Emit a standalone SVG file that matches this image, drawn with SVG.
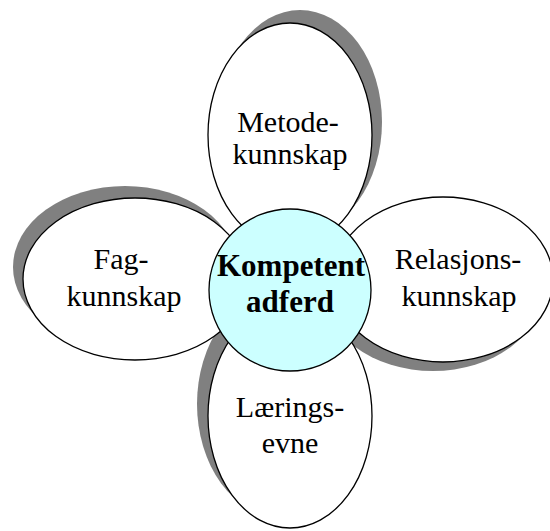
<svg xmlns="http://www.w3.org/2000/svg" width="550" height="531" viewBox="0 0 550 531">
<style>
.sh{fill:#808080;stroke:none}
.pet{fill:#fff;stroke:#000;stroke-width:1.3}
.ctr{fill:#ccffff;stroke:#000;stroke-width:1.3}
text{font-family:"Liberation Serif","Times New Roman",serif;font-size:30px;fill:#000;text-anchor:middle}
.b{font-weight:bold;font-size:31px}
</style>
<rect width="550" height="531" fill="#fff"/>
<g id="shadows">
<ellipse class="sh" cx="300" cy="122" rx="82" ry="112"/>
<ellipse class="sh" cx="125" cy="267" rx="112" ry="81"/>
<ellipse class="sh" cx="279" cy="404" rx="82" ry="112"/>
<ellipse class="sh" cx="433" cy="289" rx="110" ry="82"/>
</g>
<g id="metode">
<ellipse class="pet" cx="290" cy="135" rx="82" ry="112"/>
<text x="288" y="132">Metode-</text>
<text x="290" y="164">kunnskap</text>
</g>
<g id="fag">
<ellipse class="pet" cx="135" cy="279" rx="112" ry="81"/>
<text x="121" y="269">Fag-</text>
<text x="124" y="306">kunnskap</text>
</g>
<g id="relasjons">
<ellipse class="pet" cx="443" cy="279.5" rx="110" ry="82.5"/>
<text x="458" y="269">Relasjons-</text>
<text x="459" y="306">kunnskap</text>
</g>
<g id="laerings">
<ellipse class="pet" cx="290" cy="416" rx="82" ry="112"/>
<text x="290" y="417">Lærings-</text>
<text x="290" y="453">evne</text>
</g>
<g id="kompetent">
<circle class="ctr" cx="290" cy="290" r="81"/>
<text class="b" x="291" y="276">Kompetent</text>
<text class="b" x="290" y="312">adferd</text>
</g>
<g id="connectors"/>
</svg>
